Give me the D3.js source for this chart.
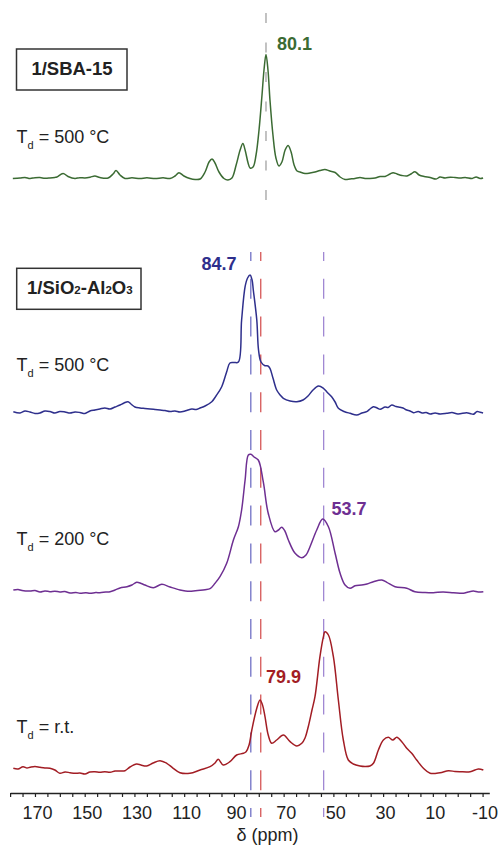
<!DOCTYPE html>
<html><head><meta charset="utf-8">
<script src="https://cdn.jsdelivr.net/npm/d3@7"></script>
<style>
html,body{margin:0;padding:0;background:#fff;}
svg{display:block;font-family:Arial,"Liberation Sans",sans-serif;}
</style></head>
<body>
<svg id="chart" width="501" height="847"></svg>
<script>
// ---- DATA: [chemical shift ppm, intensity a.u.] ----
const specSBA500 = [[178.9,-0.5],[176,0],[174,0.6],[172,-0.5],[170,0.3],[168,0.5],[166,-0.3],[164,0],[162,0.6],[161.2,1],[158.7,4.5],[156.7,1.5],[153.9,-0.5],[152,0.3],[149.9,0],[147.8,0.8],[145.9,2],[143.9,0.5],[140.6,0],[138.6,4],[137.4,7.5],[135.8,3],[133.8,-0.5],[131,0.2],[127.8,-0.5],[125,0.2],[121.7,-0.5],[118.5,0.2],[115.7,-0.5],[113.7,2],[112.1,5.3],[110.1,2],[107.7,-0.5],[105.6,-1.5],[103.6,-1],[101.6,6],[100,16],[98.8,19],[97.6,15],[96,6],[94,-0.5],[92.4,-2],[90.8,0],[89.1,13],[87.5,28],[86.4,34.5],[85.5,28],[84.3,15],[83.5,10],[82.3,11],[81.1,23],[79.9,48],[78.7,83],[77.9,108],[77.1,123.5],[76.3,108],[75.5,78],[74.3,43],[73.1,20],[71.9,12],[70.7,16],[69.4,28],[68.2,32.5],[67,26],[65.8,13],[64.6,7],[63.4,6],[61.4,4.5],[59.4,5],[57.4,6],[55.4,7.5],[53.4,8.5],[51.4,7],[49.3,5.5],[47.3,1],[45.3,-1.5],[43.3,-1],[41.3,-0.5],[39.3,0.5],[37.3,-0.5],[35.3,-0.5],[33.2,0],[31.2,1.5],[29.2,1.5],[27.2,4],[26,5.3],[24.4,4],[22.4,2.5],[20.4,2],[18.8,4],[17.2,6.3],[15.5,3],[13.5,1.5],[11.1,0.5],[8.7,-1],[7.1,1],[5.1,0],[3,0.8],[1.1,0.5],[-1,0],[-3,0.5],[-5.8,-0.5],[-7.4,1],[-9,-0.5],[-10.2,0]];

const specSiAl500 = [[178.7,0.3],[176,-1],[174,1],[172,0],[170,-1.5],[168,-1],[166,1],[164,0.5],[162,-1],[160,0.5],[157.9,0],[155.9,-1],[153.9,0],[151.9,-0.5],[149.9,-1.5],[147.9,1],[145.9,2],[143.9,3],[141.9,4],[139.8,3],[137.8,5],[135.8,7],[134.2,9],[132.6,10.3],[131.4,8],[129.8,5],[127.8,4],[125.8,3.5],[123.7,3],[121.7,2.5],[119.7,2],[117.7,1.5],[115.7,0.5],[113.7,1],[111.7,0],[109.7,1],[108.5,2],[106.9,3],[105.2,2.5],[103.6,4],[101.6,6],[98.9,10.3],[97.2,16],[94.9,25.3],[92.9,40.3],[91.6,49],[90,49.5],[88.2,50],[86.9,92],[85.5,125.3],[84.5,134],[83.5,137],[82.7,132],[82.2,122],[80.8,92],[80.1,62],[79.1,50],[77.5,46.3],[76.3,46],[75.5,43.7],[74.3,34],[72.8,22],[71.4,17],[70.1,13.7],[67.4,11],[64.7,10.3],[62.2,12],[60.2,16],[58.2,22],[56,26],[54,23.7],[52.6,20],[50.7,15.3],[49.3,10],[48,3.7],[45.7,0.5],[43.3,-1.3],[40.6,-3],[38.5,-1],[36.6,0.3],[35.3,3],[33.9,5.3],[32.4,4],[31.2,2.7],[29.2,5],[28,4.5],[26.5,7],[24.8,5.5],[23.2,4.7],[22,4],[20.5,2],[19.2,1],[17.8,-0.7],[15.9,0.5],[14.3,-1],[12.7,-0.5],[11.1,-2],[9.1,-1],[7.1,-2],[4.4,-1.3],[2.3,-0.5],[-0.1,-2],[-3.6,-0.7],[-5,-1.5],[-6.3,-2.3],[-7.8,0.5],[-9,-0.3],[-10.2,-1]];

const specSiAl200 = [[178.7,1],[176.8,1.5],[175.2,0.5],[172,0],[170,0.5],[168,-1],[166,0],[164,-0.7],[162,-0.2],[160,-1],[158,-0.6],[155.9,-2],[153.5,-1.5],[151.9,-2.3],[149.5,-1.8],[147.9,-2.3],[145.5,-1.6],[143.9,-1.7],[141.5,-1],[139.8,-0.7],[137.8,1],[135.8,3],[133,4.3],[131,6],[129.1,8.7],[127.3,7.5],[125.8,6],[122.4,3.3],[119,6.7],[115.7,4],[111.7,1],[109.5,0],[107.7,-0.3],[105.5,0.3],[103.6,0.7],[101.6,1.3],[99.6,2.3],[97.6,7.7],[95.6,14.3],[92.9,27.7],[90.2,51],[88.2,64.3],[86.9,81],[85.5,111],[84.2,136],[83.2,136.7],[81.9,134],[80.2,131],[78.2,109.3],[76.2,77.7],[73.5,59.3],[72.1,61],[70.8,63.7],[69.5,60],[68.1,51],[65.4,37.7],[62.7,33.3],[61,36],[59.4,44.3],[56.7,61],[54.3,72],[52,64.3],[49.3,37.7],[47.3,17.7],[45.3,6],[43.3,2.7],[41.3,5.3],[38.6,6],[36.5,7],[33.9,9.3],[30.5,11],[28.5,8.7],[25.2,4.3],[20.5,2.7],[17.2,-0.7],[13.1,-1.5],[9.8,-1.7],[5.9,-1],[1.7,-1.7],[-2.3,-2.3],[-4.2,-1],[-6.3,0],[-8.2,-1],[-10.3,-0.7]];

const specSiAlRT = [[178.7,1.7],[176.8,1],[174.8,3.3],[173.2,2],[172,2.7],[170,3.5],[168,2.7],[166,2],[164,1.7],[162,0],[160,-3.3],[157.9,-2],[155.9,-2.7],[153.9,-3.3],[151.9,-3],[149.9,-4],[147.9,-2],[145.9,-1.7],[143.9,-2.3],[141.9,-1.7],[139.8,-2.3],[137.8,-1],[135.8,-1],[133.8,-0.7],[131.8,3],[129.1,6],[127.4,5],[125.1,4],[122.5,7],[119.7,9.3],[117,6.7],[114.4,1.7],[111.7,-2.7],[107.7,-3.3],[103.6,0],[99.6,3.3],[97.6,7],[96.3,10.7],[94.3,5],[91.6,8.3],[88.9,15],[86.2,16.7],[85.1,18.3],[83.9,25],[82.8,40],[80.8,61.7],[79.5,70],[78.5,65],[77.5,53.3],[76.2,35],[74.8,26.7],[72.8,30],[70.1,35],[67.4,28.3],[64.7,24],[62.7,26.7],[61.4,32],[60.1,43.3],[58.6,60],[57.4,73.3],[55.4,113.3],[54,133.3],[53.4,138.3],[52,135],[50,113.3],[48,70],[46,30],[44,10],[42,6],[39.3,4],[37.3,3.5],[35.3,4],[33.9,6.7],[31.9,20],[29.9,30],[27.9,32.7],[26.1,30],[24.5,32.7],[22.5,28.3],[20.5,21.7],[18.5,16.7],[16.5,10],[13.8,1.7],[11.1,-3.3],[7.1,-2.7],[3.7,-0.7],[1.1,-1.5],[-1,-1.7],[-5,-1.7],[-8.3,1],[-10.3,0]];

const spectra = [specSBA500, specSiAl500, specSiAl200, specSiAlRT];
const spectrumColors = ["#3b6b33", "#2e2f8c", "#6e2f92", "#a21d24"];
const tempLabels = ["500 °C", "500 °C", "200 °C", "r.t."];
const peakLabels = ["80.1", "84.7", "53.7", "79.9"];
const peakLabelColors = ["#3b6b33", "#2e2f8c", "#6e2f92", "#a21d24"];
// dashed guide lines (position in ppm, as drawn)
const guidePpm = [77.1, 83.2, 79.2, 53.9];
const guideColors = ["#9a9a9a", "#6464c0", "#d24848", "#9a7fd0"];
const tickValues = d3.range(180, -11, -5);
const tickLabels = [170, 150, 130, 110, 90, 70, 50, 30, 10, -10];

// ---- LAYOUT ----
const svg = d3.select("#chart");
const x = d3.scaleLinear().domain([180, -12.7]).range([10.1, 489.3]);
const baselines = [178, 412, 591, 770];
const yScales = baselines.map(b => d3.scaleLinear().domain([0, 100]).range([b, b - 100]));
const axisY = 793;
const FONT = 'Arial,"Liberation Sans",sans-serif';

// dashed guides
svg.append("line")
  .attr("x1", x(guidePpm[0])).attr("x2", x(guidePpm[0]))
  .attr("y1", 13).attr("y2", 200)
  .attr("stroke", guideColors[0]).attr("stroke-width", 1.2)
  .attr("stroke-dasharray", "10,19.5");
guidePpm.slice(1).forEach((p, i) => {
  svg.append("line")
    .attr("x1", x(p)).attr("x2", x(p))
    .attr("y1", 252).attr("y2", 817)
    .attr("stroke", guideColors[i + 1]).attr("stroke-width", 1.2)
    .attr("stroke-dasharray", "20,17.8").attr("stroke-dashoffset", 11);
});

// spectra
spectra.forEach((s, i) => {
  const line = d3.line().x(d => x(d[0])).y(d => yScales[i](d[1])).curve(d3.curveCatmullRom.alpha(0.5));
  svg.append("path").datum(s)
    .attr("d", line).attr("fill", "none")
    .attr("stroke", spectrumColors[i]).attr("stroke-width", 1.5)
    .attr("stroke-linejoin", "round");
});

// axis
const axis = d3.axisBottom(x).tickValues(tickValues).tickSize(4).tickSizeOuter(0)
  .tickFormat(d => tickLabels.includes(d) ? String(d) : "");
const gAxis = svg.append("g").attr("transform", `translate(0,${axisY})`).call(axis);
gAxis.select(".domain").attr("stroke", "#222").attr("stroke-width", 1.4);
gAxis.selectAll(".tick line").attr("stroke", "#222").attr("stroke-width", 1.2);
gAxis.selectAll(".tick text").attr("font-family", FONT).attr("font-size", 18)
  .attr("fill", "#222").attr("y", 13).attr("dx", 2);
svg.append("text").attr("x", 267.5).attr("y", 841).attr("text-anchor", "middle")
  .attr("font-family", FONT).attr("font-size", 18).attr("fill", "#222").text("δ (ppm)");

// sample boxes
svg.append("rect").attr("x", 16.5).attr("y", 49).attr("width", 110.5).attr("height", 41)
  .attr("fill", "none").attr("stroke", "#333").attr("stroke-width", 1.5);
svg.append("text").attr("x", 72).attr("y", 75).attr("text-anchor", "middle")
  .attr("font-family", FONT).attr("font-size", 18.5).attr("font-weight", "bold").attr("fill", "#222")
  .text("1/SBA-15");
svg.append("rect").attr("x", 16.7).attr("y", 268.3).attr("width", 124.3).attr("height", 41)
  .attr("fill", "none").attr("stroke", "#333").attr("stroke-width", 1.5);
const t2 = svg.append("text").attr("x", 27).attr("y", 294)
  .attr("font-family", FONT).attr("font-size", 18.5).attr("font-weight", "bold").attr("fill", "#222");
[["1/SiO", false], ["2", true], ["-Al", false], ["2", true], ["O", false], ["3", true]].forEach(([s, sub]) => {
  t2.append("tspan").attr("font-size", sub ? 11.5 : 18.5).text(s);
});

// temperature labels
const tempY = [143, 371, 545, 733];
tempLabels.forEach((lab, i) => {
  const t = svg.append("text").attr("x", 16.5).attr("y", tempY[i])
    .attr("font-family", FONT).attr("font-size", 18).attr("fill", "#222");
  t.append("tspan").text("T");
  t.append("tspan").attr("font-size", 11).attr("dy", 6).text("d");
  t.append("tspan").attr("dy", -6).text(" = " + lab);
});

// peak labels
const peakPos = [[277, 50], [201.5, 270], [331.5, 515], [266, 683]];
peakLabels.forEach((lab, i) => {
  svg.append("text").attr("x", peakPos[i][0]).attr("y", peakPos[i][1])
    .attr("font-family", FONT).attr("font-size", 18).attr("font-weight", "bold")
    .attr("fill", peakLabelColors[i]).text(lab);
});
</script>
</body></html>
